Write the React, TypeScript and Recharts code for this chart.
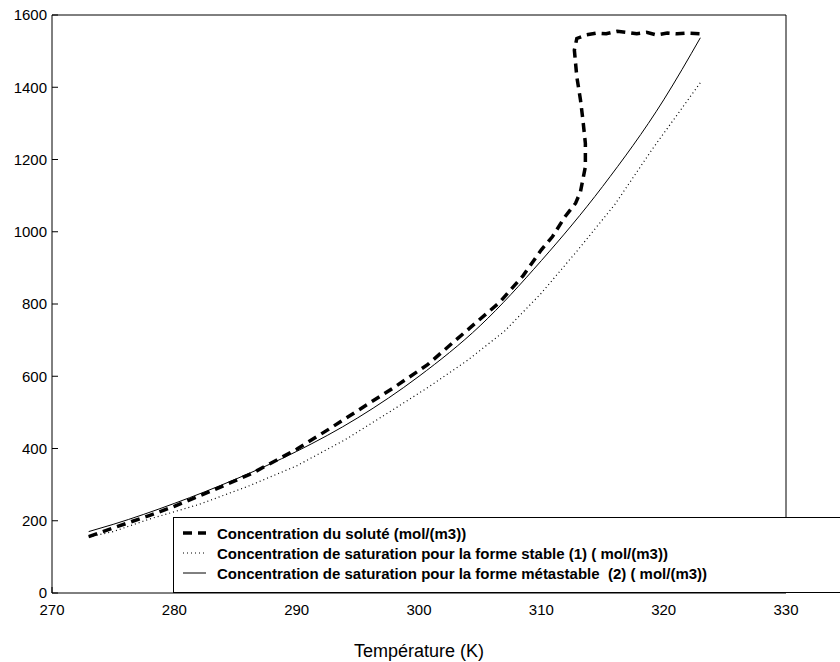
import React from 'react';
import { LineChart, Line, XAxis, YAxis } from 'recharts';

// axis ticks
const xTicks = [270, 280, 290, 300, 310, 320, 330];
const yTicks = [0, 200, 400, 600, 800, 1000, 1200, 1400, 1600];

// Concentration du soluté (dashed)
const soluteT = [273, 275, 278, 280, 283, 286.4, 290, 292.7, 295, 298, 300.7, 303, 306.6, 308.5, 310, 310.9, 311.9, 312.8, 313.2, 313.6, 313.6, 313.4, 313.2, 312.9, 312.7, 312.9, 313.7, 314.5, 315.3, 316.2, 317.0, 317.8, 318.6, 319.4, 320.3, 321.1, 321.9, 323.0];
const soluteC = [156, 180, 215, 240, 282, 332, 398, 455, 505, 570, 632, 700, 805, 878, 950, 986, 1040, 1079, 1111, 1180, 1245, 1309, 1365, 1429, 1503, 1535, 1545, 1550, 1548, 1555, 1552, 1548, 1552, 1545, 1550, 1548, 1550, 1548];

// saturation, forme stable (dotted)
const stableT = [273, 275, 278, 282, 286, 290, 294, 298, 301, 304, 307, 310, 313, 316, 319, 323];
const stableC = [155, 170, 205, 245, 295, 352, 425, 510, 575, 645, 725, 830, 950, 1075, 1225, 1413];

// saturation, forme métastable (solid)
const metaT = [273, 275, 280, 285, 290, 295, 300, 305, 310, 315, 320, 323];
const metaC = [170, 190, 248, 315, 392, 485, 600, 740, 920, 1125, 1365, 1537];

const zip = (ts: number[], cs: number[]) => ts.map((t, i) => ({ t, c: cs[i] }));
const soluteData = zip(soluteT, soluteC);
const stableData = zip(stableT, stableC);
const metaData = zip(metaT, metaC);

const FONT = 'Arial, "Liberation Sans", sans-serif';

const legendItems = [
  { label: 'Concentration du soluté (mol/(m3))', dash: '9 6', width: 3.5 },
  { label: 'Concentration de saturation pour la forme stable (1) ( mol/(m3))', dash: '1 3', width: 1 },
  { label: 'Concentration de saturation pour la forme métastable  (2) ( mol/(m3))', dash: undefined, width: 1 },
];

const LegendBox = () => (
  <div
    style={{
      position: 'absolute',
      left: 173,
      top: 517,
      width: 720,
      height: 76,
      background: '#fff',
      border: '1px solid #000',
      boxSizing: 'border-box',
      paddingTop: 5,
      fontFamily: FONT,
      fontWeight: 'bold',
      fontSize: 15,
      whiteSpace: 'pre',
    }}
  >
    {legendItems.map((it) => (
      <div key={it.label} style={{ display: 'flex', alignItems: 'center', height: 20 }}>
        <svg width={43} height={20}>
          <line x1={9} x2={32} y1={10} y2={10} stroke="#000" strokeWidth={it.width} strokeDasharray={it.dash} />
        </svg>
        <span>{it.label}</span>
      </div>
    ))}
  </div>
);

export default function App() {
  return (
    <div style={{ position: 'absolute', left: 0, top: 0, width: 840, height: 662, overflow: 'hidden', background: '#fff' }}>
      <LineChart width={840} height={662} margin={{ top: 14, right: 53, bottom: 0, left: 0 }}>
        <XAxis
          xAxisId="b"
          type="number"
          dataKey="t"
          domain={[270, 330]}
          ticks={xTicks}
          height={69}
          stroke="#000"
          tickSize={-6}
          tickMargin={17}
          tick={{ fill: '#000', fontSize: 15, fontFamily: FONT }}
          label={{ value: 'Température (K)', position: 'insideBottom', offset: 5, fill: '#000', fontSize: 18, fontFamily: FONT }}
        />
        <XAxis
          xAxisId="t"
          orientation="top"
          type="number"
          dataKey="t"
          domain={[270, 330]}
          ticks={xTicks}
          height={1}
          stroke="#000"
          tickSize={-6}
          tickFormatter={() => ''}
        />
        <YAxis
          yAxisId="l"
          type="number"
          domain={[0, 1600]}
          ticks={yTicks}
          width={52}
          stroke="#000"
          tickSize={-6}
          tickMargin={11}
          tick={{ fill: '#000', fontSize: 15, fontFamily: FONT }}
        />
        <YAxis
          yAxisId="r"
          orientation="right"
          type="number"
          domain={[0, 1600]}
          ticks={yTicks}
          width={1}
          stroke="#000"
          tickSize={-6}
          tickFormatter={() => ''}
        />
        <Line xAxisId="b" yAxisId="l" data={stableData} dataKey="c" type="linear" stroke="#000" strokeWidth={1.2} strokeDasharray="1 3" dot={false} isAnimationActive={false} />
        <Line xAxisId="b" yAxisId="l" data={metaData} dataKey="c" type="monotone" stroke="#000" strokeWidth={1} dot={false} isAnimationActive={false} />
        <Line xAxisId="b" yAxisId="l" data={soluteData} dataKey="c" type="linear" stroke="#000" strokeWidth={3.5} strokeDasharray="9 6" dot={false} isAnimationActive={false} />
      </LineChart>
      <LegendBox />
    </div>
  );
}
